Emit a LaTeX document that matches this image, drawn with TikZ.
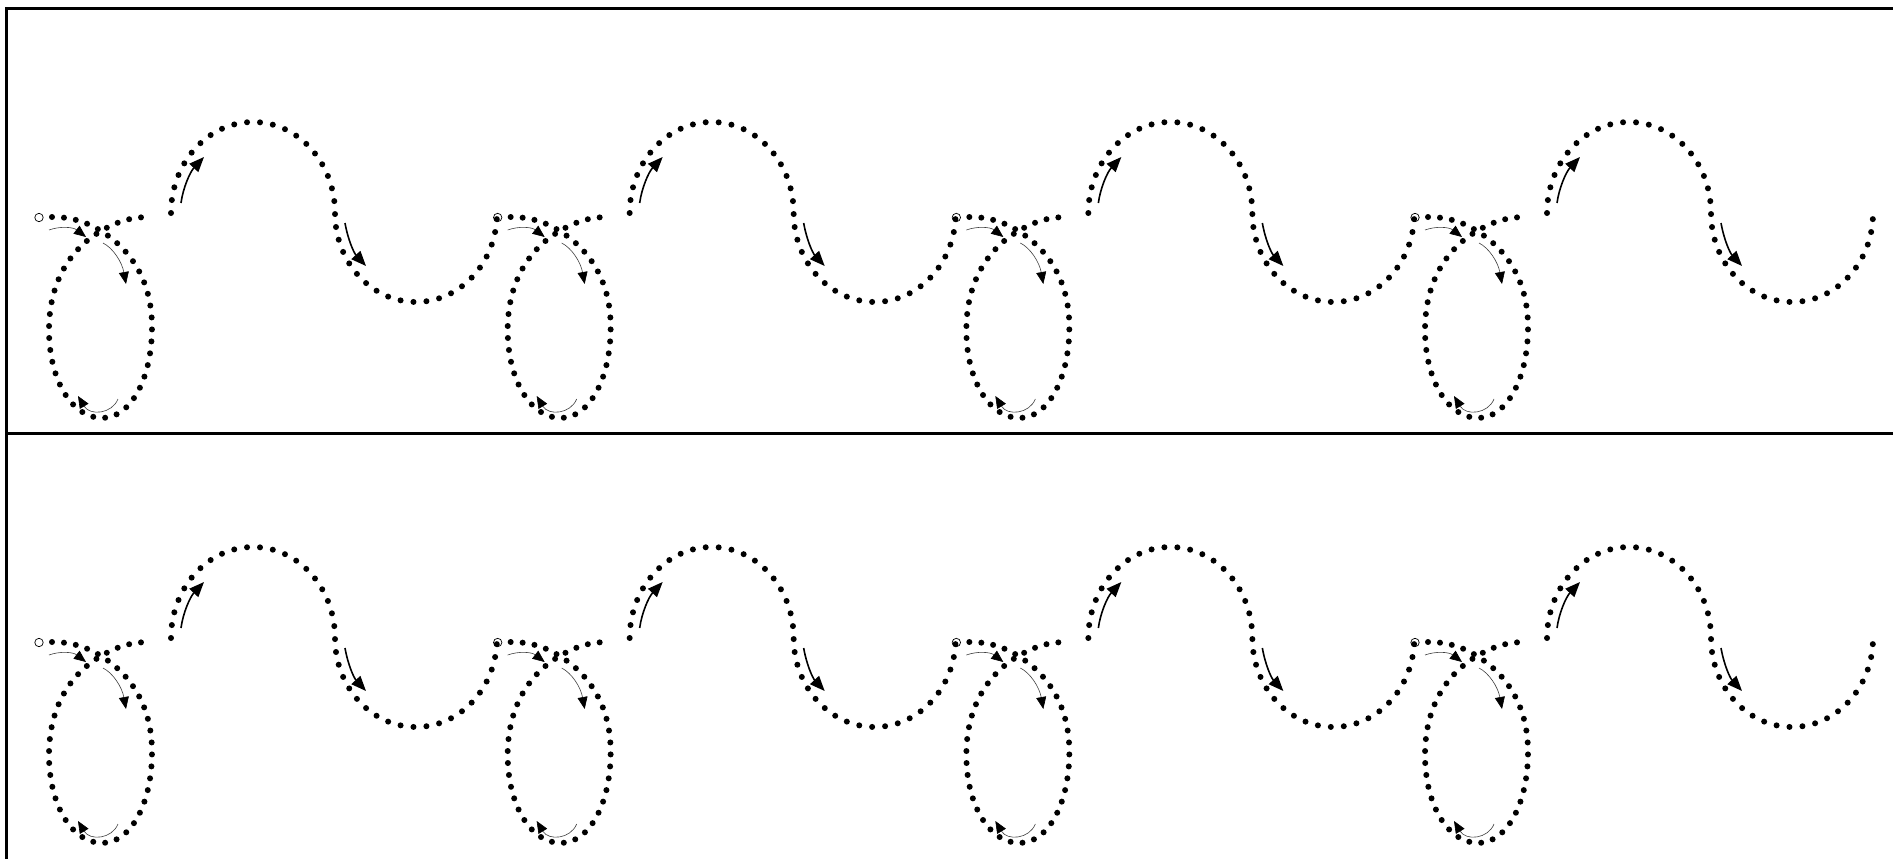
\documentclass[tikz,border=0pt]{standalone}
\usetikzlibrary{arrows.meta}
\tikzset{
 dotline/.style={line width=6pt, line cap=round, dash pattern=on 0pt off 12pt},
 wavedots/.style={line width=6pt, line cap=round, dash pattern=on 0pt off 13pt},
 thinarrow/.style={line width=0.6pt, draw=black!75, -{Triangle[length=12pt,width=10pt,color=black]}},
 thickarrow/.style={line width=1.6pt, -{Triangle[length=15pt,width=12pt]}},
 startmark/.style={line width=0.7pt},
 frameline/.style={line width=2.7pt}
}
\begin{document}
\begin{tikzpicture}[x=1pt,y=1pt]
\useasboundingbox (0,0) rectangle (1893,-859);
\fill[white] (0,0) rectangle (1893,-859);
\draw[frameline] (1900,-8.7) -- (6.7,-8.7) -- (6.7,-870);
\draw[frameline] (6.7,-433.7) -- (1900,-433.7);
\foreach \r in {0,1}{
 \foreach \k in {0,1,2,3}{
  \begin{scope}[shift={(\k*458.67,-\r*425)}]
   \draw[startmark] (39,-217.5) circle (4.2);
   \draw[dotline] (52,-217) .. controls (70,-217) and (85,-221) .. (101,-231)
     .. controls (130,-249) and (152,-280) .. (152,-327)
     .. controls (152,-380) and (130,-418) .. (102,-418)
     .. controls (72,-418) and (49,-380) .. (49,-330)
     .. controls (49,-280) and (72,-248) .. (101,-231)
     .. controls (118,-221) and (132,-217) .. (150,-217);
   \draw[wavedots] (171,-213) arc[start angle=180,end angle=0,x radius=82,y radius=91]
     arc[start angle=180,end angle=360,x radius=81,y radius=89];
   \draw[thinarrow] (49,-230) .. controls (60,-226) and (73,-227) .. (86,-237);
   \draw[thinarrow] (103,-243) .. controls (113,-248) and (122,-262) .. (126,-284);
   \draw[thinarrow] (118,-399) .. controls (112,-414) and (90,-416) .. (78,-396);
   \draw[thickarrow] (181,-203) .. controls (183,-188) and (190,-172) .. (204,-157);
   \draw[thickarrow] (345,-223) .. controls (348,-240) and (354,-253) .. (366,-266);
  \end{scope}
 }
}
\end{tikzpicture}
\end{document}
